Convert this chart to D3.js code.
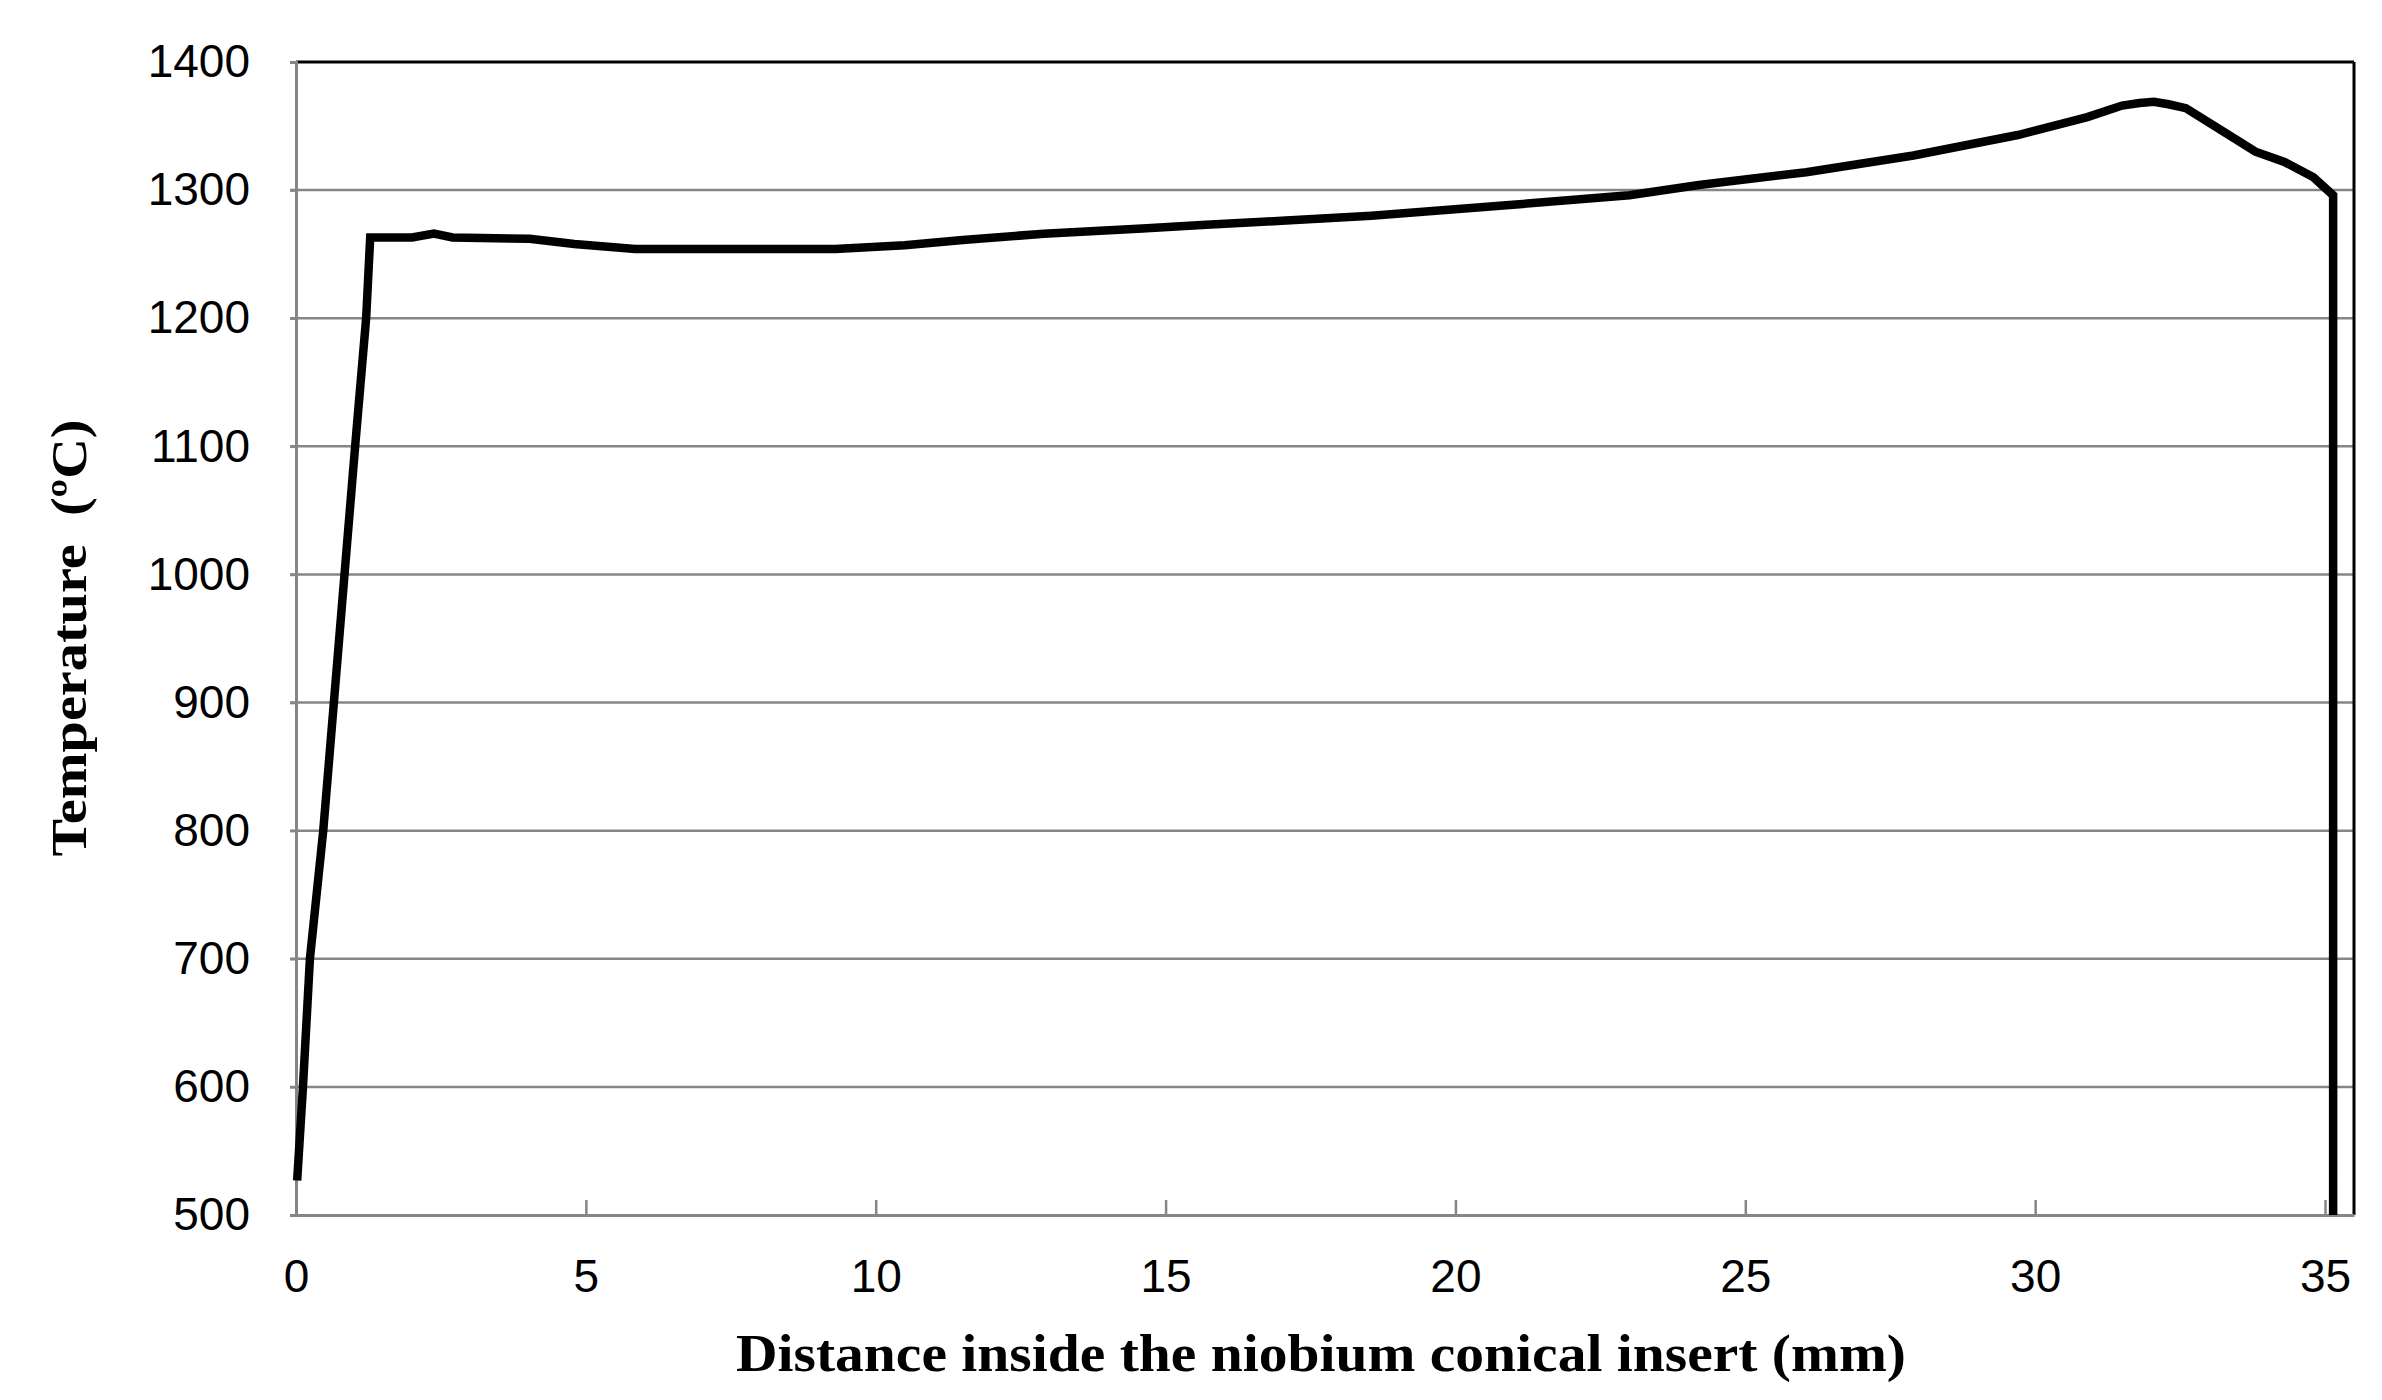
<!DOCTYPE html>
<html>
<head>
<meta charset="utf-8">
<script src="https://cdn.jsdelivr.net/npm/d3@7"></script>
<style>
  html, body { margin: 0; padding: 0; background: #fff; }
  svg { display: block; }
</style>
</head>
<body>
<svg id="chart" width="2382" height="1400"></svg>
<script>
// ---- data ----
const distanceMm = [0.02, 0.12, 0.24, 0.47, 1.02, 1.21, 1.28, 2.0, 2.38, 2.7, 4.03, 4.8, 5.85, 9.3, 10.5, 11.5, 12.9, 14.6, 15.7, 17.0, 18.55, 21.1, 23.0, 24.2, 26.05, 27.9, 29.7, 30.9, 31.5, 31.8, 32.05, 32.3, 32.6, 33.2, 33.8, 34.3, 34.8, 35.14, 35.14];
const temperatureC = [527, 600, 700, 800, 1100, 1200, 1263, 1263, 1266, 1263, 1262, 1258, 1254, 1254, 1257, 1261, 1266, 1270, 1273, 1276, 1280, 1289, 1296, 1304, 1314, 1327, 1343, 1357, 1366, 1368, 1369, 1367, 1364, 1347, 1330, 1322, 1310, 1296, 500];
const xTicks = [0, 5, 10, 15, 20, 25, 30, 35];
const yTicks = [500, 600, 700, 800, 900, 1000, 1100, 1200, 1300, 1400];
const xTitle = "Distance inside the niobium conical insert (mm)";
const yTitle = "Temperature  (\u00BAC)";

// ---- layout ----
const W = 2382, H = 1400;
const L = 296, R = 2354, T = 62, B = 1215;

const svg = d3.select("#chart");
const x = d3.scaleLinear().domain([0, 35.5]).range([L, R]);
const y = d3.scaleLinear().domain([500, 1400]).range([B, T]);

const grey = "#868686";

// gridlines
svg.append("g")
  .selectAll("line")
  .data(yTicks.filter(v => v > 500 && v < 1400))
  .join("line")
  .attr("x1", L - 6).attr("x2", R)
  .attr("y1", d => y(d)).attr("y2", d => y(d))
  .attr("stroke", grey).attr("stroke-width", 2.5);

// frame top & right (black)
svg.append("line").attr("x1", L).attr("x2", R).attr("y1", T).attr("y2", T)
  .attr("stroke", "#000").attr("stroke-width", 3);
svg.append("line").attr("x1", R).attr("x2", R).attr("y1", T).attr("y2", B)
  .attr("stroke", "#000").attr("stroke-width", 3);

// y axis
const yAxis = svg.append("g")
  .attr("transform", `translate(${L},0)`)
  .call(d3.axisLeft(y).tickValues(yTicks).tickSize(6).tickPadding(40).tickFormat(d3.format("d")));
yAxis.select(".domain").attr("stroke", grey).attr("stroke-width", 3);
yAxis.selectAll(".tick line").attr("stroke", grey).attr("stroke-width", 2.5);
yAxis.selectAll("text")
  .attr("font-family", "'Liberation Sans', Arial, sans-serif")
  .attr("font-size", 46).attr("fill", "#000");

// x axis (ticks pointing inside)
const xAxis = svg.append("g")
  .attr("transform", `translate(0,${B})`)
  .call(d3.axisBottom(x).tickValues(xTicks).tickSizeInner(-15).tickSizeOuter(0).tickPadding(44).tickFormat(d3.format("d")));
xAxis.select(".domain").attr("stroke", grey).attr("stroke-width", 3);
xAxis.selectAll(".tick line").attr("stroke", grey).attr("stroke-width", 2.5);
xAxis.selectAll("text")
  .attr("font-family", "'Liberation Sans', Arial, sans-serif")
  .attr("font-size", 46).attr("fill", "#000");

// data line
const pts = distanceMm.map((d, i) => [d, temperatureC[i]]);
svg.append("path")
  .datum(pts)
  .attr("fill", "none")
  .attr("stroke", "#000")
  .attr("stroke-width", 8.5)
  .attr("stroke-linejoin", "miter")
  .attr("d", d3.line().x(d => x(d[0])).y(d => y(d[1])).curve(d3.curveLinear));

// axis titles
svg.append("text")
  .attr("x", 1321).attr("y", 1371)
  .attr("text-anchor", "middle")
  .attr("font-family", "'Liberation Serif', 'Times New Roman', serif")
  .attr("font-weight", "bold")
  .attr("font-size", 52)
  .attr("textLength", 1170)
  .attr("lengthAdjust", "spacingAndGlyphs")
  .text(xTitle);

svg.append("text")
  .attr("transform", "translate(86,638) rotate(-90)")
  .attr("text-anchor", "middle")
  .attr("font-family", "'Liberation Serif', 'Times New Roman', serif")
  .attr("font-weight", "bold")
  .attr("font-size", 50)
  .attr("textLength", 437)
  .attr("lengthAdjust", "spacingAndGlyphs")
  .style("white-space", "pre")
  .text(yTitle);
</script>
</body>
</html>
